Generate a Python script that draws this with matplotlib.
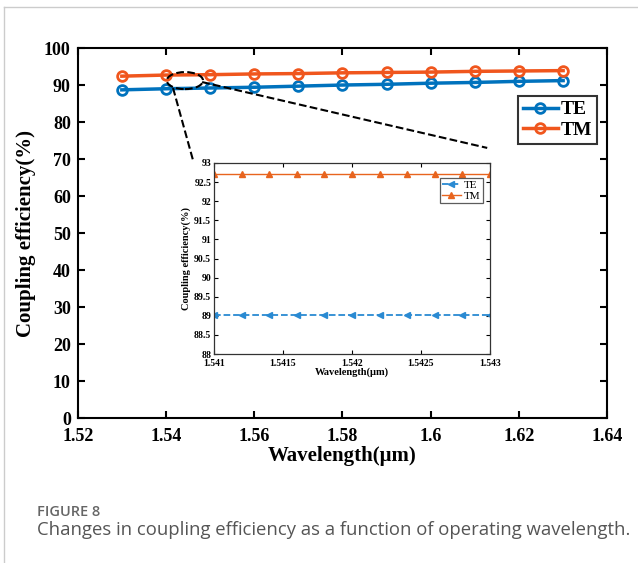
import numpy as np
import matplotlib
matplotlib.use('Agg')
import matplotlib.pyplot as plt
from matplotlib.patches import Ellipse
from matplotlib.lines import Line2D

# Main curve data
wavelength = [1.53, 1.54, 1.55, 1.56, 1.57, 1.58, 1.59, 1.60, 1.61, 1.62, 1.63]
te_eff = [88.8, 89.1, 89.3, 89.5, 89.8, 90.1, 90.3, 90.6, 90.8, 91.1, 91.3]
tm_eff = [92.5, 92.8, 92.9, 93.1, 93.2, 93.4, 93.5, 93.6, 93.8, 93.9, 94.0]

# Zoomed inset data
inset_wavelength = [1.541, 1.5412, 1.5414, 1.5416, 1.5418, 1.542,
                    1.5422, 1.5424, 1.5426, 1.5428, 1.543]
inset_te = [89.03] * 11
inset_tm = [92.72] * 11

main_xticks = [1.52, 1.54, 1.56, 1.58, 1.60, 1.62, 1.64]
main_xlabels = ['1.52', '1.54', '1.56', '1.58', '1.6', '1.62', '1.64']
inset_xticks = [1.541, 1.5415, 1.542, 1.5425, 1.543]
inset_xlabels = ['1.541', '1.5415', '1.542', '1.5425', '1.543']
inset_yticks = [88, 88.5, 89, 89.5, 90, 90.5, 91, 91.5, 92, 92.5, 93]
inset_ylabels = ['88', '88.5', '89', '89.5', '90', '90.5', '91', '91.5', '92', '92.5', '93']

TE_COLOR = '#0072BD'
TM_COLOR = '#F0561D'
SERIF = 'Liberation Serif'

fig = plt.figure(figsize=(6.38, 5.63), dpi=100)

# Main axes
ax = fig.add_axes([0.1218, 0.257, 0.830, 0.657])
ax.plot(wavelength, te_eff, '-o', color=TE_COLOR, lw=2.5, ms=7, mew=2,
        mfc='none', label='TE')
ax.plot(wavelength, tm_eff, '-o', color=TM_COLOR, lw=2.5, ms=7, mew=2,
        mfc='none', label='TM')
ax.set_xlim(1.52, 1.64)
ax.set_ylim(0, 100)
ax.set_xticks(main_xticks)
ax.set_xticklabels(main_xlabels)
ax.set_yticks(range(0, 101, 10))
ax.tick_params(direction='in', top=True, right=True, length=5, width=1.5,
               labelsize=13)
ax.tick_params(axis='x', pad=7)
ax.tick_params(axis='y', pad=5)
for lab in ax.get_xticklabels() + ax.get_yticklabels():
    lab.set_fontfamily(SERIF)
    lab.set_fontweight('bold')
for s in ax.spines.values():
    s.set_linewidth(1.5)
ax.set_xlabel('Wavelength(μm)', fontfamily=SERIF, fontweight='bold',
              fontsize=15, labelpad=1)
ax.set_ylabel('Coupling efficiency(%)', fontfamily=SERIF, fontweight='bold',
              fontsize=15, labelpad=6)

leg = ax.legend(loc='upper right', bbox_to_anchor=(0.9357, 0.8295),
                bbox_transform=fig.transFigure, frameon=True, fancybox=False,
                prop={'family': SERIF, 'weight': 'bold', 'size': 14},
                handlelength=1.8, handletextpad=0.15, borderpad=0.25,
                labelspacing=0.15, borderaxespad=0)
leg.get_frame().set_edgecolor('black')
leg.get_frame().set_linewidth(1.5)

# Dashed zoom marker and connecting lines
ax.add_patch(Ellipse((1.5443, 91.3), 0.0082, 4.6, fill=False, ls='--',
                     lw=1.5, color='black', zorder=5))
ax.plot([1.5416, 1.5461], [89.3, 69.9], '--', color='black', lw=1.5, zorder=5)
ax.plot([1.5482, 1.6128], [90.9, 73.1], '--', color='black', lw=1.5, zorder=5)

# Inset axes
axi = fig.add_axes([0.3354, 0.3712, 0.4326, 0.3393])
axi.plot(inset_wavelength, inset_te, '--<', color='#2A8AD2', lw=1.3, ms=4,
         label='TE')
axi.plot(inset_wavelength, inset_tm, '-^', color='#E8641E', lw=1.0, ms=4,
         label='TM')
axi.set_xlim(1.541, 1.543)
axi.set_ylim(88, 93)
axi.set_xticks(inset_xticks)
axi.set_xticklabels(inset_xlabels)
axi.set_yticks(inset_yticks)
axi.set_yticklabels(inset_ylabels)
axi.tick_params(direction='in', top=True, right=True, length=3, width=0.8,
                labelsize=7, pad=2)
axi.tick_params(axis='x', pad=3.5)
for lab in axi.get_xticklabels() + axi.get_yticklabels():
    lab.set_fontfamily(SERIF)
    lab.set_fontweight('bold')
for s in axi.spines.values():
    s.set_linewidth(0.9)
    s.set_color('#333333')
axi.set_xlabel('Wavelength(μm)', fontfamily=SERIF, fontweight='bold',
               fontsize=7.5, labelpad=0)
axi.set_ylabel('Coupling efficiency(%)', fontfamily=SERIF, fontweight='bold',
               fontsize=7.5, labelpad=2)
legi = axi.legend(loc='upper right', bbox_to_anchor=(0.757, 0.6838),
                  bbox_transform=fig.transFigure, frameon=True, fancybox=False,
                  prop={'family': SERIF, 'size': 8},
                  handlelength=1.7, handletextpad=0.3, borderpad=0.2,
                  labelspacing=0.1, borderaxespad=0)
legi.get_frame().set_edgecolor('#333333')
legi.get_frame().set_linewidth(0.9)

# Card border and caption
fig.add_artist(Line2D([4 / 638, 1.0], [1 - 7 / 563, 1 - 7 / 563],
                      color='#cccccc', lw=1.0))
fig.add_artist(Line2D([4 / 638, 4 / 638], [0.0, 1 - 7 / 563],
                      color='#cccccc', lw=1.0))
fig.text(37 / 638, 1 - 512 / 563, 'FIGURE 8', fontfamily='Open Sans',
         fontweight='semibold', fontsize=10.5, color='#666666', va='center')
fig.text(37 / 638, 1 - 530 / 563,
         'Changes in coupling efficiency as a function of operating wavelength.',
         fontfamily='Open Sans', fontsize=13.3, color='#555555', va='center')

fig.savefig('out.png', dpi=100)
